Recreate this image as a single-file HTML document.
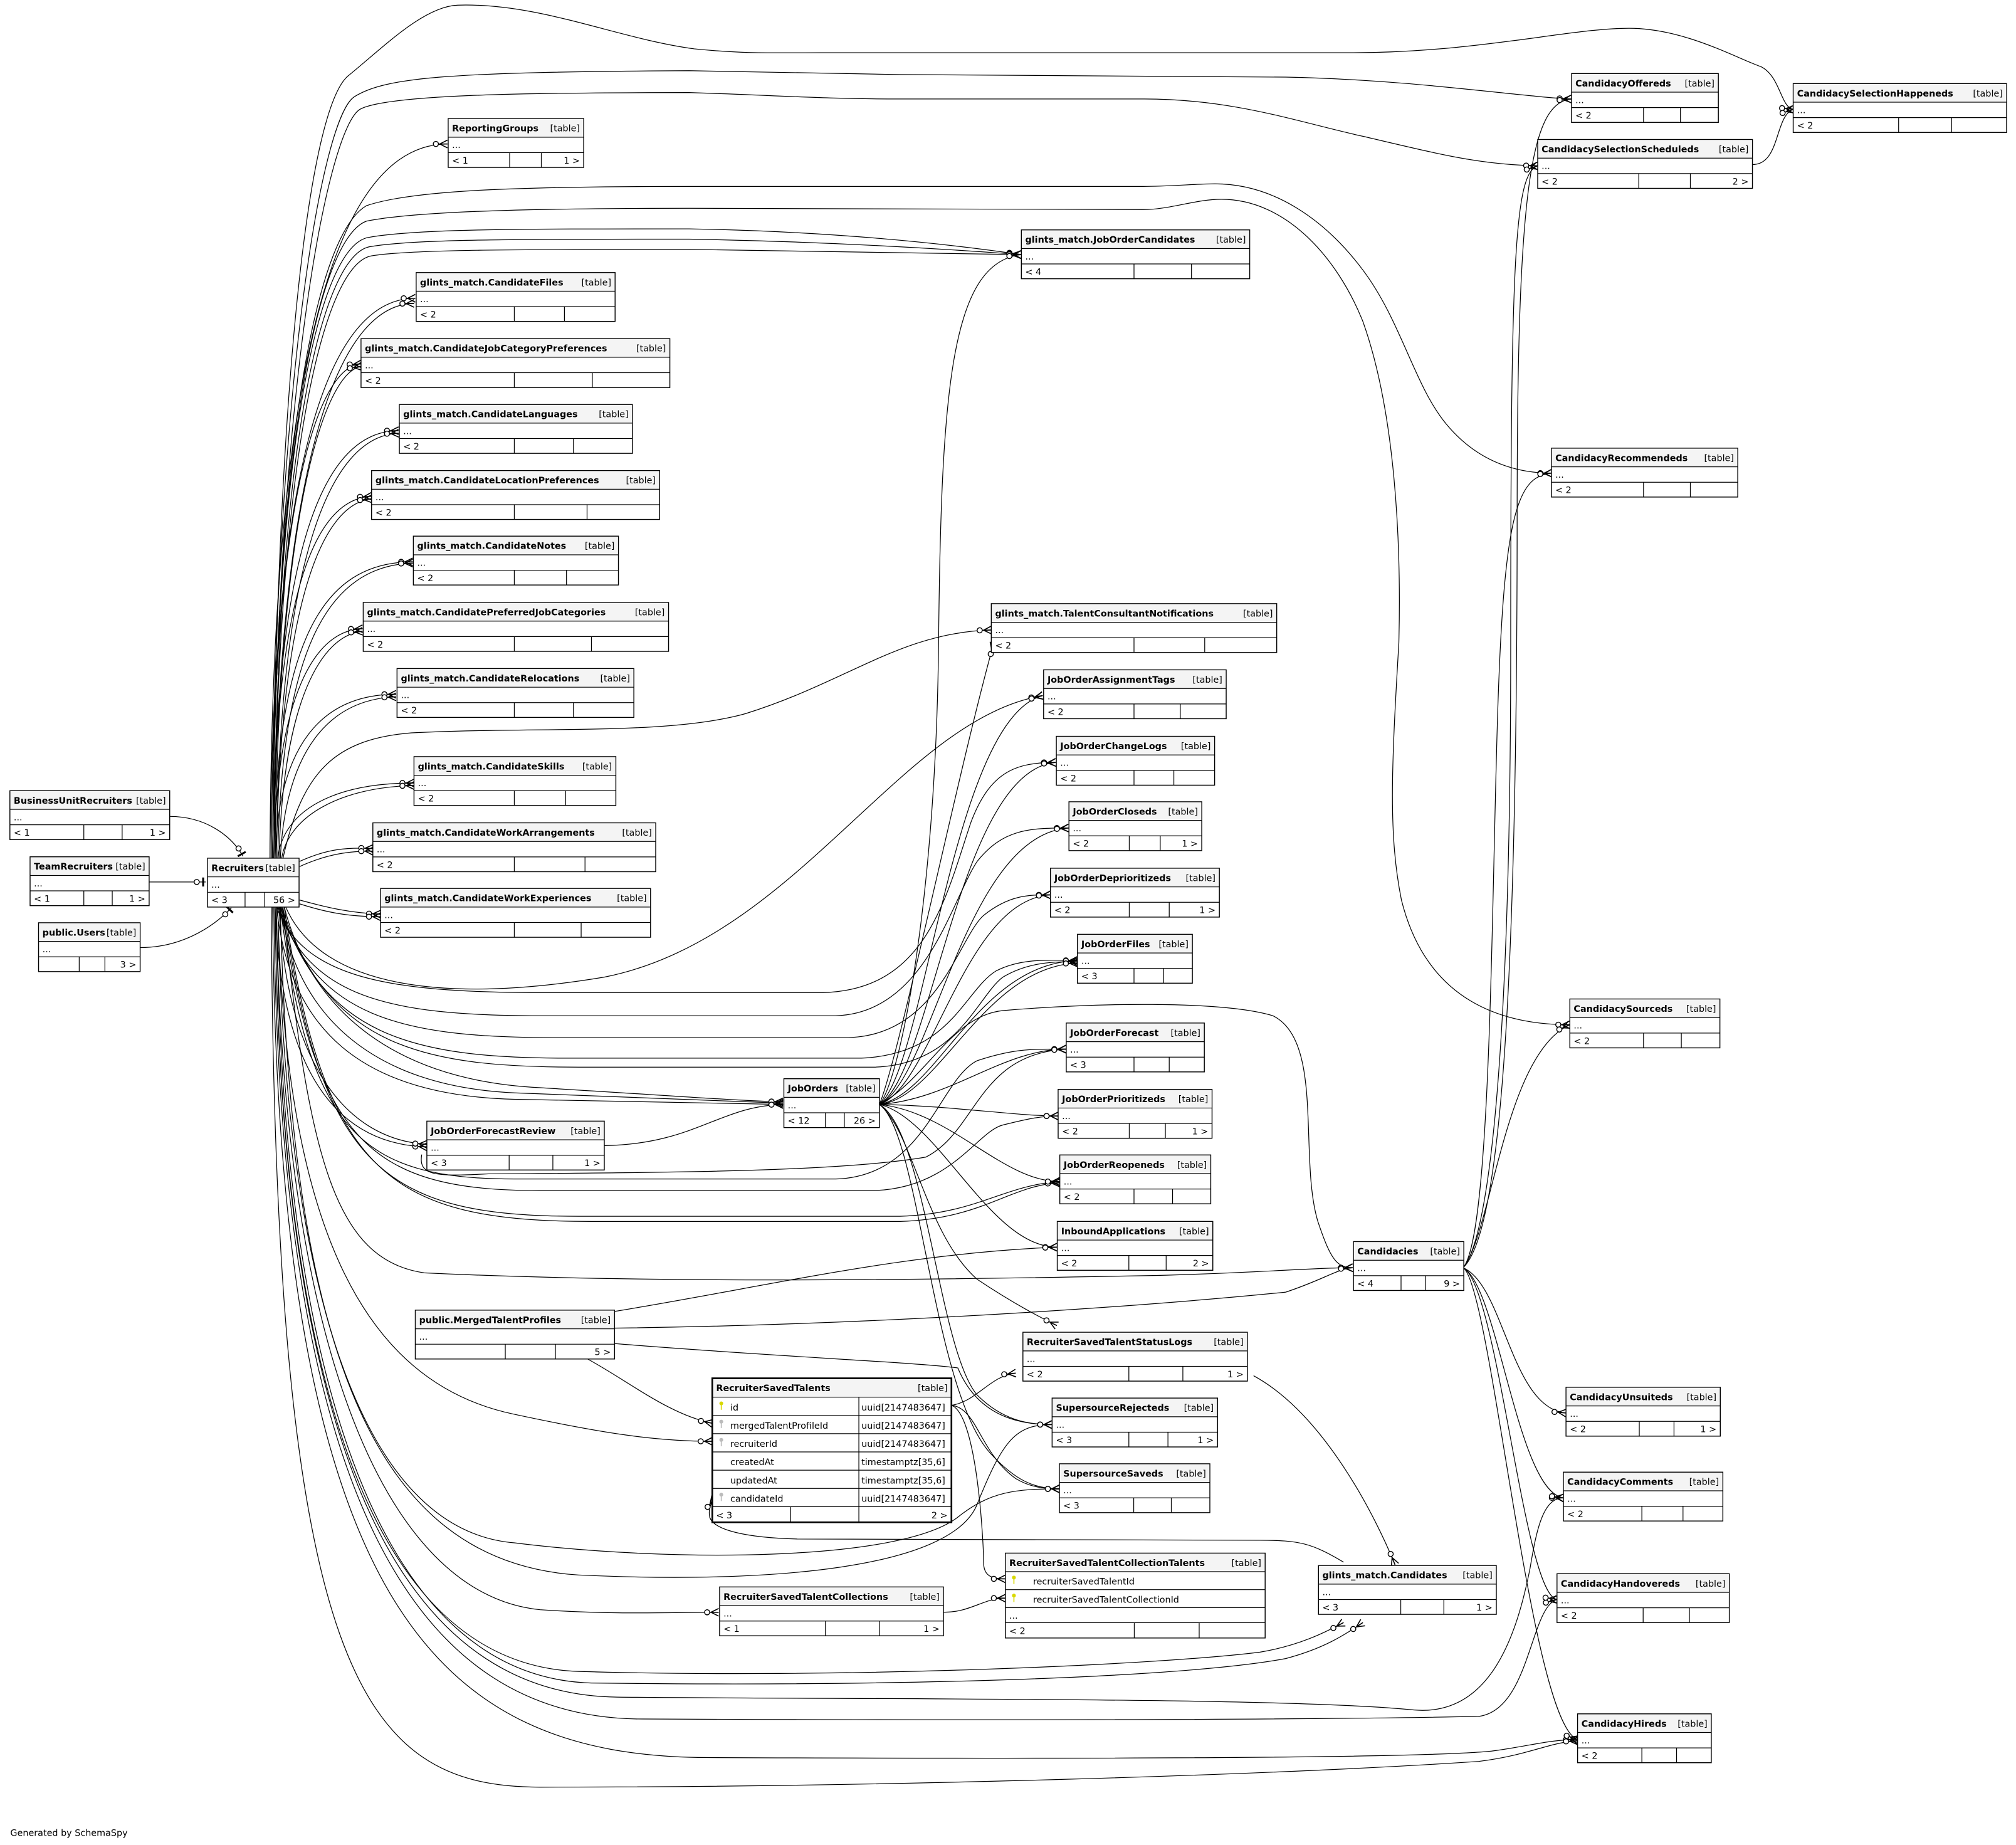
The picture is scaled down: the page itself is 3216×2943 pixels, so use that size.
<!DOCTYPE html>
<html><head><meta charset="utf-8"><style>
html,body{margin:0;padding:0;background:#fff;}
svg{display:block;}
text{font-family:"DejaVu Sans","Liberation Sans",sans-serif;font-size:7px;fill:#000;}
.n{font-weight:bold;}
.t{fill:#fff;stroke:#000;stroke-width:.7;}
.hd{fill:#f4f4f4;stroke:none;}
.ln{stroke:#000;stroke-width:.6;fill:none;}
.e path{fill:none;stroke:#000;stroke-width:.6;marker-end:url(#m);}
.o path{fill:none;stroke:#000;stroke-width:.6;marker-end:url(#one);}
</style></head><body>
<svg xmlns="http://www.w3.org/2000/svg" width="3216" height="2943" viewBox="0 0 1568 1435" preserveAspectRatio="none">
<defs>
<marker id="m" markerWidth="14" markerHeight="10" refX="12" refY="5" orient="auto" markerUnits="userSpaceOnUse"><circle cx="3" cy="5" r="2" fill="#fff" stroke="#000" stroke-width=".7"/><path d="M5 5L12 5M6 5L12 2M6 5L12 8" stroke="#000" stroke-width=".8" fill="none"/></marker>
<marker id="one" markerWidth="14" markerHeight="10" refX="10" refY="5" orient="auto" markerUnits="userSpaceOnUse"><circle cx="3" cy="5" r="2" fill="#fff" stroke="#000" stroke-width=".7"/><path d="M8 1.5V8.5" stroke="#000" stroke-width="1.5"/></marker>
</defs>
<rect width="1568" height="1435" fill="#fff"/>

<g class="e">
<path d="M212 668C215 300 240 80 272 58C300 35 330 5 356 4C420 2 480 30 540 38C580 42 600 41 640 41L1050 41C1150 41 1220 22 1267 22C1310 22 1350 45 1370 52C1385 60 1385 84 1395 85"/>
<path d="M211 668C214 300 250 90 276 75C300 60 350 56 536 55L700 58L1000 60C1100 62 1180 75 1222 77"/>
<path d="M212 668C215 300 255 100 280 85C300 74 400 72 536 72C600 74 640 77 700 77L890 77C960 77 1010 95 1060 106C1120 120 1150 128 1196 129"/>
<path d="M212 668C214 320 250 180 285 160C320 148 400 145 536 145L889 145C910 145 930 143 945 143C990 143 1030 170 1060 210C1090 250 1100 300 1125 330C1150 360 1180 368 1207 368"/>
<path d="M212 668C214 330 250 185 285 172C320 165 400 162 536 162L889 163C910 163 930 155 950 155C1000 155 1040 200 1060 250C1085 320 1090 420 1088 500C1082 600 1080 650 1090 700C1110 780 1170 797 1221 797"/>
<path d="M212 668C214 330 250 195 285 185C320 178 400 178 536 178C650 180 740 190 794 198"/>
<path d="M213 668C215 335 252 200 287 192C320 186 400 186 536 186C650 188 740 194 794 198"/>
<path d="M213 668C216 340 254 205 289 199C320 194 400 194 536 194C650 195 740 197 794 198"/>
<path d="M210 668C211 350 245 112 348 112"/>
<path d="M210 668C212 380 250 232 323 232"/><path d="M213 668C216 390 255 237 322 236"/>
<path d="M211 668C212 400 245 285 281 283"/><path d="M214 668C216 410 250 290 281 285"/>
<path d="M212 668C214 430 250 335 310 335"/><path d="M215 668C217 440 255 339 310 337"/>
<path d="M212 668C214 460 245 388 289 386"/><path d="M215 668C218 470 250 392 289 388"/>
<path d="M213 668C215 500 250 437 321 437"/><path d="M216 668C219 505 255 440 321 438"/>
<path d="M213 668C215 540 245 490 282 489"/><path d="M217 668C220 545 250 494 282 491"/>
<path d="M214 668C216 580 250 540 308 540"/><path d="M218 668C222 585 255 544 308 542"/>
<path d="M216 668C220 630 260 609 322 609"/><path d="M219 668C224 635 265 612 322 611"/>
<path d="M233 670C255 660 270 659 290 660"/><path d="M233 674C255 664 272 662 290 662"/>
<path d="M233 700C255 706 272 710 296 711"/><path d="M233 703C255 710 272 713 296 713"/>
<path d="M220 668C235 600 260 575 320 570C420 565 520 572 580 555C660 530 700 492 771 490"/>
<path d="M222 705C250 770 350 780 470 760C620 730 700 560 811 541"/>
<path d="M215 705C225 800 280 852 400 855C500 857 570 858 609 859"/>
<path d="M218 705C230 790 290 845 400 850C500 854 570 857 609 858"/>
<path d="M221 705C240 780 300 840 420 846C520 852 570 856 609 857"/>
<path d="M214 705C218 830 260 890 332 892"/><path d="M217 705C222 820 265 886 332 890"/>
<path d="M215 705C235 760 300 772 420 772L640 772C720 770 735 700 755 640C770 600 790 593 821 593"/>
<path d="M216 705C240 775 300 790 420 790L650 790C720 788 740 700 760 670C780 645 800 644 831 644"/>
<path d="M217 705C245 790 310 807 430 807L660 807C730 805 745 730 765 712C785 696 800 696 817 696"/>
<path d="M218 705C250 805 320 823 440 823L670 823C740 820 750 770 775 755C795 745 815 747 838 747"/>
<path d="M219 705C255 815 330 830 450 830L680 830C745 828 760 775 780 760C800 748 820 748 838 748"/>
<path d="M218 705C240 880 280 917 400 917L650 917C720 915 730 840 760 825C790 815 805 816 829 816"/>
<path d="M219 705C245 890 290 926 420 926L680 926C740 924 760 880 780 875C800 870 810 868 823 868"/>
<path d="M220 705C250 910 300 946 450 946L700 946C760 944 780 922 824 919"/>
<path d="M221 705C252 915 305 950 460 950L700 950C765 948 785 922 824 920"/>
<path d="M220 705C240 900 260 980 330 990C500 998 700 996 900 992C980 990 1020 986 1052 986"/>
<path d="M216 705C222 950 280 1075 400 1100C470 1115 510 1121 554 1121"/>
<path d="M216 705C222 1000 280 1190 400 1200C520 1215 700 1215 745 1180C770 1160 790 1158 824 1158"/>
<path d="M218 705C226 1050 290 1215 450 1225C600 1232 740 1220 760 1170C780 1120 790 1108 818 1108"/>
<path d="M215 705C220 1050 300 1240 420 1252C480 1256 520 1254 559 1254"/>
<path d="M214 705C218 1100 300 1295 450 1300C650 1306 900 1295 980 1285C1010 1280 1030 1270 1045 1262"/>
<path d="M215 705C219 1110 310 1305 460 1309C700 1312 920 1305 1000 1290C1030 1282 1045 1272 1060 1262"/>
<path d="M214 705C218 1150 320 1318 480 1320C700 1322 1000 1320 1100 1330C1160 1335 1180 1270 1190 1220C1195 1190 1200 1165 1216 1165"/>
<path d="M213 705C217 1180 330 1337 500 1337C750 1338 1000 1338 1150 1335C1190 1330 1190 1250 1211 1244"/>
<path d="M212 705C216 1250 340 1366 550 1367C800 1368 1100 1368 1160 1362C1190 1358 1205 1353 1227 1353"/>
<path d="M211 705C214 1300 280 1390 420 1390C700 1390 1000 1380 1150 1370C1190 1365 1205 1355 1227 1354"/>
<path d="M684 859C700 840 728 700 730 500C732 300 740 205 794 198"/>
<path d="M684 859C700 820 745 600 773 500"/>
<path d="M684 859C720 830 740 560 811 541"/>
<path d="M684 859C725 835 745 600 821 593"/>
<path d="M684 859C725 840 750 650 831 644"/>
<path d="M684 859C725 845 750 700 817 696"/>
<path d="M684 859C730 850 760 750 838 747"/><path d="M684 859C730 855 765 752 838 749"/>
<path d="M684 859C740 855 780 816 829 816"/>
<path d="M684 859C740 860 790 868 823 868"/>
<path d="M684 859C740 865 780 919 824 919"/>
<path d="M684 859C730 870 770 970 822 970"/>
<path d="M684 859C720 840 740 790 780 786C850 780 950 778 990 790C1030 810 1010 900 1025 950C1035 980 1040 986 1052 986"/>
<path d="M684 859C710 880 720 960 760 995C790 1015 810 1025 822 1031"/>
<path d="M684 859C720 880 730 1050 760 1085C780 1105 800 1108 818 1108"/>
<path d="M684 859C715 880 725 1080 770 1130C790 1152 805 1158 824 1158"/>
<path d="M470 891C540 890 560 860 609 859"/>
<path d="M328 898C325 915 340 915 380 913C500 912 650 912 720 900C760 880 760 820 829 816"/>
<path d="M478 1020C600 1000 700 975 822 970"/>
<path d="M478 1033C700 1030 900 1015 1000 1005C1030 995 1040 987 1052 986"/>
<path d="M478 1045C600 1055 720 1060 745 1064C760 1100 790 1108 818 1108"/>
<path d="M457 1057C490 1075 520 1100 554 1107"/>
<path d="M740 1093C760 1090 770 1070 790 1068"/>
<path d="M740 1093C760 1095 762 1130 790 1150C800 1156 810 1158 824 1158"/>
<path d="M740 1093C760 1100 765 1200 765 1215C765 1225 770 1228 782 1228"/>
<path d="M734 1254C755 1254 765 1243 782 1243"/>
<path d="M1045 1215C1020 1200 1010 1198 980 1198L620 1197C580 1196 555 1190 552 1180C551 1175 552 1170 556 1165"/>
<path d="M975 1070C1030 1100 1070 1180 1085 1217"/>
<path d="M1138 986C1160 960 1175 800 1175 500C1175 200 1178 135 1196 129"/>
<path d="M1138 986C1165 960 1180 800 1180 400C1180 150 1190 80 1222 77"/>
<path d="M1138 986C1160 960 1160 700 1165 550C1170 400 1180 370 1207 368"/>
<path d="M1138 986C1160 960 1170 820 1221 797"/>
<path d="M1138 986C1170 1000 1175 1095 1218 1099"/>
<path d="M1138 986C1165 1000 1180 1160 1216 1165"/>
<path d="M1138 986C1165 1000 1185 1240 1211 1244"/>
<path d="M1138 986C1160 1000 1190 1340 1227 1353"/>
<path d="M1363 128C1385 128 1380 90 1395 85"/>
</g>
<g class="o">
<path d="M132 635C160 635 180 650 189 666"/>
<path d="M116 686L160 686"/>
<path d="M109 737C140 737 165 722 180 706"/>
</g>

<g transform="translate(348.6,92.2)"><rect class="t" width="105.4" height="38"/><rect class="hd" x=".4" y=".4" width="104.6" height="14"/><path class="ln" d="M0 14.5H105.4M0 26.5H105.4M47.8 26.5V38M72.4 26.5V38"/><text class="n" x="3" y="10">ReportingGroups</text><text x="102.4" y="10" text-anchor="end">[table]</text><text x="3" y="23">...</text><text x="3" y="35">&lt; 1</text><text x="102.4" y="35" text-anchor="end">1 &gt;</text></g>
<g transform="translate(1222.3,57.2)"><rect class="t" width="114.2" height="38"/><rect class="hd" x=".4" y=".4" width="113.4" height="14"/><path class="ln" d="M0 14.5H114.2M0 26.5H114.2M56 26.5V38M84.7 26.5V38"/><text class="n" x="3" y="10">CandidacyOffereds</text><text x="111.2" y="10" text-anchor="end">[table]</text><text x="3" y="23">...</text><text x="3" y="35">&lt; 2</text></g>
<g transform="translate(1394.7,65)"><rect class="t" width="166" height="38"/><rect class="hd" x=".4" y=".4" width="165.2" height="14"/><path class="ln" d="M0 14.5H166M0 26.5H166M82 26.5V38M123.3 26.5V38"/><text class="n" x="3" y="10">CandidacySelectionHappeneds</text><text x="163" y="10" text-anchor="end">[table]</text><text x="3" y="23">...</text><text x="3" y="35">&lt; 2</text></g>
<g transform="translate(1196,108.5)"><rect class="t" width="167" height="38"/><rect class="hd" x=".4" y=".4" width="166.2" height="14"/><path class="ln" d="M0 14.5H167M0 26.5H167M78.6 26.5V38M118.7 26.5V38"/><text class="n" x="3" y="10">CandidacySelectionScheduleds</text><text x="164" y="10" text-anchor="end">[table]</text><text x="3" y="23">...</text><text x="3" y="35">&lt; 2</text><text x="164" y="35" text-anchor="end">2 &gt;</text></g>
<g transform="translate(794.4,178.8)"><rect class="t" width="177.6" height="38"/><rect class="hd" x=".4" y=".4" width="176.8" height="14"/><path class="ln" d="M0 14.5H177.6M0 26.5H177.6M87.6 26.5V38M132.3 26.5V38"/><text class="n" x="3" y="10">glints_match.JobOrderCandidates</text><text x="174.6" y="10" text-anchor="end">[table]</text><text x="3" y="23">...</text><text x="3" y="35">&lt; 4</text></g>
<g transform="translate(323.7,212)"><rect class="t" width="154.7" height="38"/><rect class="hd" x=".4" y=".4" width="153.9" height="14"/><path class="ln" d="M0 14.5H154.7M0 26.5H154.7M76.3 26.5V38M115.3 26.5V38"/><text class="n" x="3" y="10">glints_match.CandidateFiles</text><text x="151.7" y="10" text-anchor="end">[table]</text><text x="3" y="23">...</text><text x="3" y="35">&lt; 2</text></g>
<g transform="translate(280.8,263.4)"><rect class="t" width="240.2" height="38"/><rect class="hd" x=".4" y=".4" width="239.4" height="14"/><path class="ln" d="M0 14.5H240.2M0 26.5H240.2M119.2 26.5V38M179.9 26.5V38"/><text class="n" x="3" y="10">glints_match.CandidateJobCategoryPreferences</text><text x="237.2" y="10" text-anchor="end">[table]</text><text x="3" y="23">...</text><text x="3" y="35">&lt; 2</text></g>
<g transform="translate(310.6,314.6)"><rect class="t" width="181.3" height="38"/><rect class="hd" x=".4" y=".4" width="180.5" height="14"/><path class="ln" d="M0 14.5H181.3M0 26.5H181.3M89.4 26.5V38M135.4 26.5V38"/><text class="n" x="3" y="10">glints_match.CandidateLanguages</text><text x="178.3" y="10" text-anchor="end">[table]</text><text x="3" y="23">...</text><text x="3" y="35">&lt; 2</text></g>
<g transform="translate(289,366)"><rect class="t" width="224" height="38"/><rect class="hd" x=".4" y=".4" width="223.2" height="14"/><path class="ln" d="M0 14.5H224M0 26.5H224M111 26.5V38M167.6 26.5V38"/><text class="n" x="3" y="10">glints_match.CandidateLocationPreferences</text><text x="221" y="10" text-anchor="end">[table]</text><text x="3" y="23">...</text><text x="3" y="35">&lt; 2</text></g>
<g transform="translate(321.5,417)"><rect class="t" width="159.5" height="38"/><rect class="hd" x=".4" y=".4" width="158.7" height="14"/><path class="ln" d="M0 14.5H159.5M0 26.5H159.5M78.5 26.5V38M119.1 26.5V38"/><text class="n" x="3" y="10">glints_match.CandidateNotes</text><text x="156.5" y="10" text-anchor="end">[table]</text><text x="3" y="23">...</text><text x="3" y="35">&lt; 2</text></g>
<g transform="translate(282.5,468.6)"><rect class="t" width="237.5" height="38"/><rect class="hd" x=".4" y=".4" width="236.7" height="14"/><path class="ln" d="M0 14.5H237.5M0 26.5H237.5M117.5 26.5V38M177.5 26.5V38"/><text class="n" x="3" y="10">glints_match.CandidatePreferredJobCategories</text><text x="234.5" y="10" text-anchor="end">[table]</text><text x="3" y="23">...</text><text x="3" y="35">&lt; 2</text></g>
<g transform="translate(308.8,520)"><rect class="t" width="184.2" height="38"/><rect class="hd" x=".4" y=".4" width="183.4" height="14"/><path class="ln" d="M0 14.5H184.2M0 26.5H184.2M91.2 26.5V38M137.2 26.5V38"/><text class="n" x="3" y="10">glints_match.CandidateRelocations</text><text x="181.2" y="10" text-anchor="end">[table]</text><text x="3" y="23">...</text><text x="3" y="35">&lt; 2</text></g>
<g transform="translate(322,588.5)"><rect class="t" width="157" height="38"/><rect class="hd" x=".4" y=".4" width="156.2" height="14"/><path class="ln" d="M0 14.5H157M0 26.5H157M78 26.5V38M118 26.5V38"/><text class="n" x="3" y="10">glints_match.CandidateSkills</text><text x="154" y="10" text-anchor="end">[table]</text><text x="3" y="23">...</text><text x="3" y="35">&lt; 2</text></g>
<g transform="translate(290,640)"><rect class="t" width="220" height="38"/><rect class="hd" x=".4" y=".4" width="219.2" height="14"/><path class="ln" d="M0 14.5H220M0 26.5H220M110 26.5V38M165 26.5V38"/><text class="n" x="3" y="10">glints_match.CandidateWorkArrangements</text><text x="217" y="10" text-anchor="end">[table]</text><text x="3" y="23">...</text><text x="3" y="35">&lt; 2</text></g>
<g transform="translate(296,691)"><rect class="t" width="210" height="38"/><rect class="hd" x=".4" y=".4" width="209.2" height="14"/><path class="ln" d="M0 14.5H210M0 26.5H210M104 26.5V38M156 26.5V38"/><text class="n" x="3" y="10">glints_match.CandidateWorkExperiences</text><text x="207" y="10" text-anchor="end">[table]</text><text x="3" y="23">...</text><text x="3" y="35">&lt; 2</text></g>
<g transform="translate(1206.7,348.6)"><rect class="t" width="144.9" height="38"/><rect class="hd" x=".4" y=".4" width="144.1" height="14"/><path class="ln" d="M0 14.5H144.9M0 26.5H144.9M71.6 26.5V38M108 26.5V38"/><text class="n" x="3" y="10">CandidacyRecommendeds</text><text x="141.9" y="10" text-anchor="end">[table]</text><text x="3" y="23">...</text><text x="3" y="35">&lt; 2</text></g>
<g transform="translate(771,469.5)"><rect class="t" width="222" height="38"/><rect class="hd" x=".4" y=".4" width="221.2" height="14"/><path class="ln" d="M0 14.5H222M0 26.5H222M111 26.5V38M166 26.5V38"/><text class="n" x="3" y="10">glints_match.TalentConsultantNotifications</text><text x="219" y="10" text-anchor="end">[table]</text><text x="3" y="23">...</text><text x="3" y="35">&lt; 2</text></g>
<g transform="translate(811.7,521)"><rect class="t" width="142" height="38"/><rect class="hd" x=".4" y=".4" width="141.2" height="14"/><path class="ln" d="M0 14.5H142M0 26.5H142M70.3 26.5V38M106.3 26.5V38"/><text class="n" x="3" y="10">JobOrderAssignmentTags</text><text x="139" y="10" text-anchor="end">[table]</text><text x="3" y="23">...</text><text x="3" y="35">&lt; 2</text></g>
<g transform="translate(821.6,572.7)"><rect class="t" width="123.1" height="38"/><rect class="hd" x=".4" y=".4" width="122.3" height="14"/><path class="ln" d="M0 14.5H123.1M0 26.5H123.1M60.4 26.5V38M91.4 26.5V38"/><text class="n" x="3" y="10">JobOrderChangeLogs</text><text x="120.1" y="10" text-anchor="end">[table]</text><text x="3" y="23">...</text><text x="3" y="35">&lt; 2</text></g>
<g transform="translate(831.4,623.6)"><rect class="t" width="103.3" height="38"/><rect class="hd" x=".4" y=".4" width="102.5" height="14"/><path class="ln" d="M0 14.5H103.3M0 26.5H103.3M46.9 26.5V38M71 26.5V38"/><text class="n" x="3" y="10">JobOrderCloseds</text><text x="100.3" y="10" text-anchor="end">[table]</text><text x="3" y="23">...</text><text x="3" y="35">&lt; 2</text><text x="100.3" y="35" text-anchor="end">1 &gt;</text></g>
<g transform="translate(817,675.3)"><rect class="t" width="131.4" height="38"/><rect class="hd" x=".4" y=".4" width="130.6" height="14"/><path class="ln" d="M0 14.5H131.4M0 26.5H131.4M61.3 26.5V38M92.4 26.5V38"/><text class="n" x="3" y="10">JobOrderDeprioritizeds</text><text x="128.4" y="10" text-anchor="end">[table]</text><text x="3" y="23">...</text><text x="3" y="35">&lt; 2</text><text x="128.4" y="35" text-anchor="end">1 &gt;</text></g>
<g transform="translate(838,726.7)"><rect class="t" width="89.4" height="38"/><rect class="hd" x=".4" y=".4" width="88.6" height="14"/><path class="ln" d="M0 14.5H89.4M0 26.5H89.4M44 26.5V38M67 26.5V38"/><text class="n" x="3" y="10">JobOrderFiles</text><text x="86.4" y="10" text-anchor="end">[table]</text><text x="3" y="23">...</text><text x="3" y="35">&lt; 3</text></g>
<g transform="translate(7.7,615)"><rect class="t" width="124.3" height="38"/><rect class="hd" x=".4" y=".4" width="123.5" height="14"/><path class="ln" d="M0 14.5H124.3M0 26.5H124.3M57.5 26.5V38M87.3 26.5V38"/><text class="n" x="3" y="10">BusinessUnitRecruiters</text><text x="121.3" y="10" text-anchor="end">[table]</text><text x="3" y="23">...</text><text x="3" y="35">&lt; 1</text><text x="121.3" y="35" text-anchor="end">1 &gt;</text></g>
<g transform="translate(23.4,666.4)"><rect class="t" width="92.6" height="38"/><rect class="hd" x=".4" y=".4" width="91.8" height="14"/><path class="ln" d="M0 14.5H92.6M0 26.5H92.6M41.8 26.5V38M63.9 26.5V38"/><text class="n" x="3" y="10">TeamRecruiters</text><text x="89.6" y="10" text-anchor="end">[table]</text><text x="3" y="23">...</text><text x="3" y="35">&lt; 1</text><text x="89.6" y="35" text-anchor="end">1 &gt;</text></g>
<g transform="translate(30,717.7)"><rect class="t" width="79" height="38"/><rect class="hd" x=".4" y=".4" width="78.2" height="14"/><path class="ln" d="M0 14.5H79M0 26.5H79M31.6 26.5V38M51.6 26.5V38"/><text class="n" x="3" y="10">public.Users</text><text x="76" y="10" text-anchor="end">[table]</text><text x="3" y="23">...</text><text x="76" y="35" text-anchor="end">3 &gt;</text></g>
<g transform="translate(161.4,667.5)"><rect class="t" width="71.2" height="38"/><rect class="hd" x=".4" y=".4" width="70.4" height="14"/><path class="ln" d="M0 14.5H71.2M0 26.5H71.2M29.2 26.5V38M44.5 26.5V38"/><text class="n" x="3" y="10">Recruiters</text><text x="68.2" y="10" text-anchor="end">[table]</text><text x="3" y="23">...</text><text x="3" y="35">&lt; 3</text><text x="68.2" y="35" text-anchor="end">56 &gt;</text></g>
<g transform="translate(1221,777)"><rect class="t" width="116.7" height="38"/><rect class="hd" x=".4" y=".4" width="115.9" height="14"/><path class="ln" d="M0 14.5H116.7M0 26.5H116.7M57.3 26.5V38M86.7 26.5V38"/><text class="n" x="3" y="10">CandidacySourceds</text><text x="113.7" y="10" text-anchor="end">[table]</text><text x="3" y="23">...</text><text x="3" y="35">&lt; 2</text></g>
<g transform="translate(829.3,795.7)"><rect class="t" width="107.4" height="38"/><rect class="hd" x=".4" y=".4" width="106.6" height="14"/><path class="ln" d="M0 14.5H107.4M0 26.5H107.4M52.7 26.5V38M80.1 26.5V38"/><text class="n" x="3" y="10">JobOrderForecast</text><text x="104.4" y="10" text-anchor="end">[table]</text><text x="3" y="23">...</text><text x="3" y="35">&lt; 3</text></g>
<g transform="translate(609.7,839)"><rect class="t" width="74.3" height="38"/><rect class="hd" x=".4" y=".4" width="73.5" height="14"/><path class="ln" d="M0 14.5H74.3M0 26.5H74.3M32.3 26.5V38M47 26.5V38"/><text class="n" x="3" y="10">JobOrders</text><text x="71.3" y="10" text-anchor="end">[table]</text><text x="3" y="23">...</text><text x="3" y="35">&lt; 12</text><text x="71.3" y="35" text-anchor="end">26 &gt;</text></g>
<g transform="translate(823,847.3)"><rect class="t" width="119.7" height="38"/><rect class="hd" x=".4" y=".4" width="118.9" height="14"/><path class="ln" d="M0 14.5H119.7M0 26.5H119.7M55.3 26.5V38M83.4 26.5V38"/><text class="n" x="3" y="10">JobOrderPrioritizeds</text><text x="116.7" y="10" text-anchor="end">[table]</text><text x="3" y="23">...</text><text x="3" y="35">&lt; 2</text><text x="116.7" y="35" text-anchor="end">1 &gt;</text></g>
<g transform="translate(332,872)"><rect class="t" width="138" height="38"/><rect class="hd" x=".4" y=".4" width="137.2" height="14"/><path class="ln" d="M0 14.5H138M0 26.5H138M64 26.5V38M98 26.5V38"/><text class="n" x="3" y="10">JobOrderForecastReview</text><text x="135" y="10" text-anchor="end">[table]</text><text x="3" y="23">...</text><text x="3" y="35">&lt; 3</text><text x="135" y="35" text-anchor="end">1 &gt;</text></g>
<g transform="translate(824.3,898.3)"><rect class="t" width="117.4" height="38"/><rect class="hd" x=".4" y=".4" width="116.6" height="14"/><path class="ln" d="M0 14.5H117.4M0 26.5H117.4M57.7 26.5V38M87.7 26.5V38"/><text class="n" x="3" y="10">JobOrderReopeneds</text><text x="114.4" y="10" text-anchor="end">[table]</text><text x="3" y="23">...</text><text x="3" y="35">&lt; 2</text></g>
<g transform="translate(822.3,950)"><rect class="t" width="121" height="38"/><rect class="hd" x=".4" y=".4" width="120.2" height="14"/><path class="ln" d="M0 14.5H121M0 26.5H121M55.7 26.5V38M84.7 26.5V38"/><text class="n" x="3" y="10">InboundApplications</text><text x="118" y="10" text-anchor="end">[table]</text><text x="3" y="23">...</text><text x="3" y="35">&lt; 2</text><text x="118" y="35" text-anchor="end">2 &gt;</text></g>
<g transform="translate(1052.7,965.7)"><rect class="t" width="85.8" height="38"/><rect class="hd" x=".4" y=".4" width="85" height="14"/><path class="ln" d="M0 14.5H85.8M0 26.5H85.8M37 26.5V38M56 26.5V38"/><text class="n" x="3" y="10">Candidacies</text><text x="82.8" y="10" text-anchor="end">[table]</text><text x="3" y="23">...</text><text x="3" y="35">&lt; 4</text><text x="82.8" y="35" text-anchor="end">9 &gt;</text></g>
<g transform="translate(323,1019)"><rect class="t" width="155" height="38"/><rect class="hd" x=".4" y=".4" width="154.2" height="14"/><path class="ln" d="M0 14.5H155M0 26.5H155M70 26.5V38M109 26.5V38"/><text class="n" x="3" y="10">public.MergedTalentProfiles</text><text x="152" y="10" text-anchor="end">[table]</text><text x="3" y="23">...</text><text x="152" y="35" text-anchor="end">5 &gt;</text></g>
<g transform="translate(795.6,1036.2)"><rect class="t" width="174.6" height="38"/><rect class="hd" x=".4" y=".4" width="173.8" height="14"/><path class="ln" d="M0 14.5H174.6M0 26.5H174.6M82.4 26.5V38M124.4 26.5V38"/><text class="n" x="3" y="10">RecruiterSavedTalentStatusLogs</text><text x="171.6" y="10" text-anchor="end">[table]</text><text x="3" y="23">...</text><text x="3" y="35">&lt; 2</text><text x="171.6" y="35" text-anchor="end">1 &gt;</text></g>
<g transform="translate(1218,1079)"><rect class="t" width="120" height="38"/><rect class="hd" x=".4" y=".4" width="119.2" height="14"/><path class="ln" d="M0 14.5H120M0 26.5H120M57 26.5V38M84 26.5V38"/><text class="n" x="3" y="10">CandidacyUnsuiteds</text><text x="117" y="10" text-anchor="end">[table]</text><text x="3" y="23">...</text><text x="3" y="35">&lt; 2</text><text x="117" y="35" text-anchor="end">1 &gt;</text></g>
<g transform="translate(818.3,1087.4)"><rect class="t" width="128.7" height="38"/><rect class="hd" x=".4" y=".4" width="127.9" height="14"/><path class="ln" d="M0 14.5H128.7M0 26.5H128.7M59.7 26.5V38M90.1 26.5V38"/><text class="n" x="3" y="10">SupersourceRejecteds</text><text x="125.7" y="10" text-anchor="end">[table]</text><text x="3" y="23">...</text><text x="3" y="35">&lt; 3</text><text x="125.7" y="35" text-anchor="end">1 &gt;</text></g>
<g transform="translate(824,1138.5)"><rect class="t" width="117" height="38"/><rect class="hd" x=".4" y=".4" width="116.2" height="14"/><path class="ln" d="M0 14.5H117M0 26.5H117M57.8 26.5V38M87 26.5V38"/><text class="n" x="3" y="10">SupersourceSaveds</text><text x="114" y="10" text-anchor="end">[table]</text><text x="3" y="23">...</text><text x="3" y="35">&lt; 3</text></g>
<g transform="translate(1216,1145)"><rect class="t" width="124" height="38"/><rect class="hd" x=".4" y=".4" width="123.2" height="14"/><path class="ln" d="M0 14.5H124M0 26.5H124M61 26.5V38M93 26.5V38"/><text class="n" x="3" y="10">CandidacyComments</text><text x="121" y="10" text-anchor="end">[table]</text><text x="3" y="23">...</text><text x="3" y="35">&lt; 2</text></g>
<g transform="translate(1025.5,1217.6)"><rect class="t" width="138.3" height="38"/><rect class="hd" x=".4" y=".4" width="137.5" height="14"/><path class="ln" d="M0 14.5H138.3M0 26.5H138.3M64 26.5V38M97.5 26.5V38"/><text class="n" x="3" y="10">glints_match.Candidates</text><text x="135.3" y="10" text-anchor="end">[table]</text><text x="3" y="23">...</text><text x="3" y="35">&lt; 3</text><text x="135.3" y="35" text-anchor="end">1 &gt;</text></g>
<g transform="translate(1211,1224)"><rect class="t" width="134" height="38"/><rect class="hd" x=".4" y=".4" width="133.2" height="14"/><path class="ln" d="M0 14.5H134M0 26.5H134M67 26.5V38M103 26.5V38"/><text class="n" x="3" y="10">CandidacyHandovereds</text><text x="131" y="10" text-anchor="end">[table]</text><text x="3" y="23">...</text><text x="3" y="35">&lt; 2</text></g>
<g transform="translate(559.7,1234.3)"><rect class="t" width="174.1" height="38"/><rect class="hd" x=".4" y=".4" width="173.3" height="14"/><path class="ln" d="M0 14.5H174.1M0 26.5H174.1M82.3 26.5V38M124.3 26.5V38"/><text class="n" x="3" y="10">RecruiterSavedTalentCollections</text><text x="171.1" y="10" text-anchor="end">[table]</text><text x="3" y="23">...</text><text x="3" y="35">&lt; 1</text><text x="171.1" y="35" text-anchor="end">1 &gt;</text></g>
<g transform="translate(1227,1333)"><rect class="t" width="104" height="38"/><rect class="hd" x=".4" y=".4" width="103.2" height="14"/><path class="ln" d="M0 14.5H104M0 26.5H104M50 26.5V38M77 26.5V38"/><text class="n" x="3" y="10">CandidacyHireds</text><text x="101" y="10" text-anchor="end">[table]</text><text x="3" y="23">...</text><text x="3" y="35">&lt; 2</text></g>

<g transform="translate(554,1072)">
<rect width="186" height="112" fill="#fff" stroke="none"/>
<rect class="hd" x="1" y="1" width="184" height="13.7"/>
<path class="ln" d="M0 14.7H186M0 28.9H186M0 43.1H186M0 57.3H186M0 71.5H186M0 85.7H186M0 99.9H186M114 14.7V99.9M61 99.9V112M114 99.9V112"/>
<rect width="186" height="112" fill="none" stroke="#000" stroke-width="1.3"/>
<text class="n" x="3" y="10">RecruiterSavedTalents</text><text x="183" y="10" text-anchor="end">[table]</text>
<g fill="#d8d800"><circle cx="7" cy="19.5" r="1.5"/><rect x="6.6" y="19.5" width=".8" height="5"/></g>
<g fill="#bbb"><circle cx="7" cy="33.7" r="1.5"/><rect x="6.6" y="33.7" width=".8" height="5"/><circle cx="7" cy="47.9" r="1.5"/><rect x="6.6" y="47.9" width=".8" height="5"/><circle cx="7" cy="90.5" r="1.5"/><rect x="6.6" y="90.5" width=".8" height="5"/></g>
<text x="14" y="25">id</text><text x="116" y="25">uuid[2147483647]</text>
<text x="14" y="39.2">mergedTalentProfileId</text><text x="116" y="39.2">uuid[2147483647]</text>
<text x="14" y="53.4">recruiterId</text><text x="116" y="53.4">uuid[2147483647]</text>
<text x="14" y="67.6">createdAt</text><text x="116" y="67.6">timestamptz[35,6]</text>
<text x="14" y="81.8">updatedAt</text><text x="116" y="81.8">timestamptz[35,6]</text>
<text x="14" y="96">candidateId</text><text x="116" y="96">uuid[2147483647]</text>
<text x="3" y="109">&lt; 3</text><text x="183" y="109" text-anchor="end">2 &gt;</text>
</g>

<g transform="translate(782,1208)">
<rect class="t" width="202" height="66"/>
<rect class="hd" x=".4" y=".4" width="201.2" height="14"/>
<path class="ln" d="M0 14.4H202M0 28.4H202M0 42.4H202M0 54.1H202M100.2 54.1V66M150.7 54.1V66"/>
<text class="n" x="3" y="10">RecruiterSavedTalentCollectionTalents</text><text x="199" y="10" text-anchor="end">[table]</text>
<g fill="#d8d800"><circle cx="6.6" cy="19" r="1.5"/><rect x="6.2" y="19" width=".8" height="5"/><circle cx="6.6" cy="33" r="1.5"/><rect x="6.2" y="33" width=".8" height="5"/></g>
<text x="21.5" y="24.5">recruiterSavedTalentId</text>
<text x="21.5" y="38.5">recruiterSavedTalentCollectionId</text>
<text x="3" y="51">...</text>
<text x="3" y="63">&lt; 2</text>
</g>

<text x="8" y="1428">Generated by SchemaSpy</text>
</svg>
</body></html>
